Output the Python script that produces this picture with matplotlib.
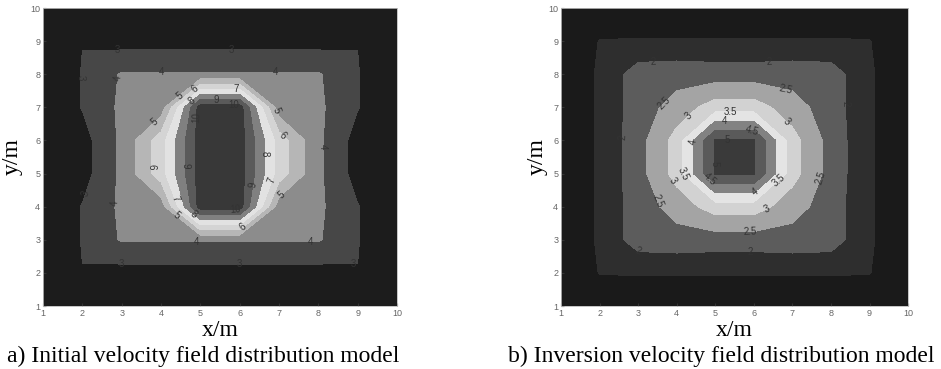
import numpy as np
import matplotlib.pyplot as plt
from matplotlib.colors import ListedColormap, BoundaryNorm

# Grid nodes (m)
x_m = [1, 2, 3, 4, 5, 6, 7, 8, 9, 10]
y_m = [1, 2, 3, 4, 5, 6, 7, 8, 9, 10]

# Initial velocity model, rows from y=1 (bottom) to y=10 (top)
vel_initial = [
    [2.0, 2.0, 2.0, 2.0, 2.0, 2.0, 2.0, 2.0, 2.0, 2.0],
    [2.0, 2.98, 2.6, 2.6, 2.6, 2.6, 2.6, 2.6, 2.98, 2.0],
    [2.0, 3.05, 4.1, 4.1, 4.1, 4.1, 4.1, 4.1, 3.05, 2.0],
    [2.0, 3.05, 4.2, 4.4, 10.5, 10.5, 4.4, 4.2, 3.05, 2.0],
    [2.0, 2.6, 4.2, 6.55, 10.5, 10.5, 6.55, 4.2, 2.6, 2.0],
    [2.0, 2.6, 4.2, 6.55, 10.5, 10.5, 6.55, 4.2, 2.6, 2.0],
    [2.0, 3.05, 4.2, 4.4, 10.5, 10.5, 4.4, 4.2, 3.05, 2.0],
    [2.0, 3.05, 4.1, 4.1, 4.1, 4.1, 4.1, 4.1, 3.05, 2.0],
    [2.0, 2.98, 2.6, 2.6, 2.6, 2.6, 2.6, 2.6, 2.98, 2.0],
    [2.0, 2.0, 2.0, 2.0, 2.0, 2.0, 2.0, 2.0, 2.0, 2.0],
]

# Inverted velocity model, same layout
vel_inversion = [
    [1.0, 1.0, 1.0, 1.0, 1.0, 1.0, 1.0, 1.0, 1.0, 1.0],
    [1.0, 1.52, 1.55, 1.55, 1.55, 1.55, 1.55, 1.55, 1.52, 1.0],
    [1.0, 1.58, 2.25, 2.3, 2.25, 2.25, 2.3, 2.25, 1.58, 1.0],
    [1.0, 1.58, 2.25, 2.7, 3.25, 3.25, 2.7, 2.25, 1.58, 1.0],
    [1.0, 1.58, 2.3, 3.2, 5.05, 5.05, 3.2, 2.3, 1.58, 1.0],
    [1.0, 1.58, 2.3, 3.2, 5.05, 5.05, 3.2, 2.3, 1.58, 1.0],
    [1.0, 1.58, 2.25, 2.7, 3.25, 3.25, 2.7, 2.25, 1.58, 1.0],
    [1.0, 1.58, 2.25, 2.3, 2.25, 2.25, 2.3, 2.25, 1.58, 1.0],
    [1.0, 1.52, 1.55, 1.55, 1.55, 1.55, 1.55, 1.55, 1.52, 1.0],
    [1.0, 1.0, 1.0, 1.0, 1.0, 1.0, 1.0, 1.0, 1.0, 1.0],
]

levels_initial = [3, 4, 5, 6, 7, 8, 9, 10]
levels_inversion = [1.5, 2, 2.5, 3, 3.5, 4, 4.5, 5]

captions = ["a) Initial velocity field distribution model",
            "b) Inversion velocity field distribution model"]

# gray shades for each filled band (lowest band first)
grays_initial = ["#1c1c1c", "#474747", "#8c8c8c", "#b6b6b6", "#d4d4d4",
                 "#e2e2e2", "#808080", "#5a5a5a", "#383838"]
grays_inversion = ["#1a1a1a", "#2e2e2e", "#5c5c5c", "#a4a4a4", "#d2d2d2",
                   "#e4e4e4", "#828282", "#5a5a5a", "#3a3a3a"]

# where the contour labels sit
label_pos_initial = {
    3: [(2.9, 8.7), (5.8, 8.7), (1.9, 7.9), (2.1, 4.4), (3.0, 2.3), (6.0, 2.3), (8.9, 2.3)],
    4: [(4.0, 8.05), (6.9, 8.05), (2.8, 7.9), (8.1, 5.8), (2.8, 4.1), (4.9, 2.93), (7.8, 2.93)],
    5: [(4.4, 7.45), (3.8, 6.6), (7.1, 7.0), (4.5, 3.9), (7.1, 4.3)],
    6: [(4.9, 7.5), (3.8, 5.2), (7.2, 6.3), (6.1, 3.35)],
    7: [(5.9, 7.6), (4.5, 4.3), (6.8, 4.8)],
    8: [(4.85, 7.1), (6.7, 5.6), (4.9, 3.85)],
    9: [(5.4, 7.3), (4.8, 5.25), (6.2, 4.7)],
    10: [(5.85, 7.05), (5.0, 6.7), (5.9, 3.95)],
}
label_pos_inversion = {
    2: [(3.4, 8.3), (6.4, 8.3), (8.4, 7.1), (2.6, 6.1), (3.0, 2.6), (5.9, 2.65)],
    2.5: [(3.6, 7.2), (6.8, 7.45), (7.9, 4.8), (3.15, 4.0), (5.9, 3.25)],
    3: [(4.2, 6.85), (6.95, 6.7), (3.8, 4.7), (6.4, 3.8)],
    3.5: [(5.4, 6.95), (4.17, 5.0), (6.7, 4.75)],
    4: [(5.25, 6.55), (4.5, 5.95), (6.0, 4.5)],
    4.5: [(5.95, 6.2), (4.8, 4.75)],
    5: [(5.3, 5.9), (5.05, 5.3)],
}

plt.rcParams['font.family'] = ['Liberation Sans', 'DejaVu Sans']

fig = plt.figure(figsize=(9.41, 3.69), dpi=100)
ax_a = fig.add_axes([0.0457, 0.1707, 0.3762, 0.8076])
ax_b = fig.add_axes([0.5962, 0.1707, 0.3688, 0.8076])

panels = [
    (ax_a, vel_initial, levels_initial, grays_initial, label_pos_initial, 0.0, 11.0, -0.056),
    (ax_b, vel_inversion, levels_inversion, grays_inversion, label_pos_inversion, 0.0, 6.0, -0.037),
]

for ax, z, levels, grays, label_pos, vmin, vmax, ylab_x in panels:
    z = np.array(z)
    bounds = [vmin] + levels + [vmax]
    cmap = ListedColormap(grays)
    norm = BoundaryNorm(bounds, cmap.N)
    ax.contourf(x_m, y_m, z, levels=bounds, cmap=cmap, norm=norm)
    # one invisible line set per level, just to carry the labels
    for lev, pts in label_pos.items():
        cs = ax.contour(x_m, y_m, z, levels=[lev], colors='k', linewidths=0)
        ax.clabel(cs, manual=pts, inline=False,
                  fontsize=7, colors='#333333', fmt='%g')

    ax.set_xlim(1, 10)
    ax.set_ylim(1, 10)
    ax.set_xticks(range(1, 11))
    ax.set_yticks(range(1, 11))
    ax.tick_params(labelsize=6.5, labelcolor='#666666', length=2,
                   direction='in', color='#333333', pad=2)
    for s in ax.spines.values():
        s.set_color('#bbbbbb')
        s.set_linewidth(0.6)

    ax.set_xlabel('x/m', fontsize=17, family='Liberation Serif')
    ax.set_ylabel('y/m', fontsize=17, family='Liberation Serif')
    ax.xaxis.set_label_coords(0.5, -0.046)
    ax.yaxis.set_label_coords(ylab_x, 0.5)

fig.text(0.216, 0.034, captions[0], ha='center', va='center',
         fontsize=17, family='Liberation Serif')
fig.text(0.766, 0.034, captions[1], ha='center', va='center',
         fontsize=17, family='Liberation Serif')

fig.savefig('out.png', dpi=100)
